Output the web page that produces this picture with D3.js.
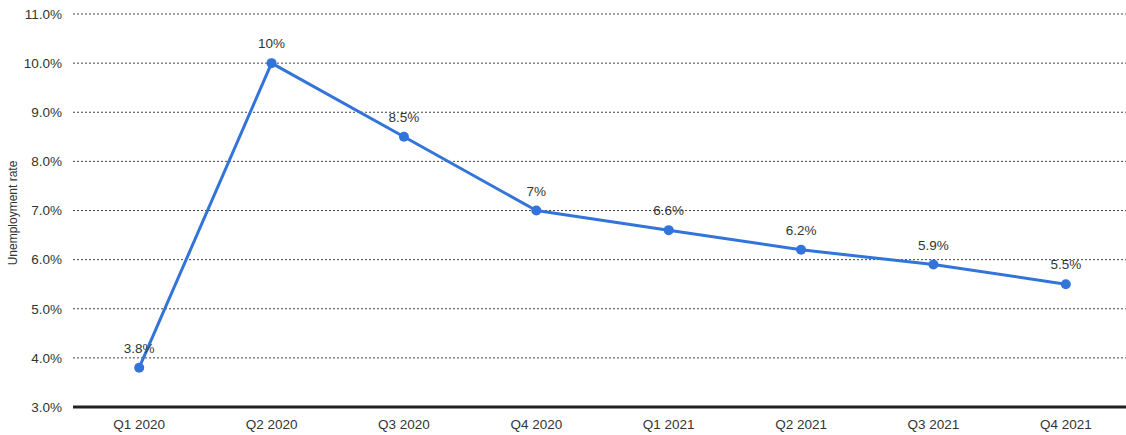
<!DOCTYPE html>
<html><head><meta charset="utf-8">
<script src="https://cdn.jsdelivr.net/npm/d3@7"></script>
<style>body{margin:0;background:#fff;} svg{display:block;font-family:"Liberation Sans",Arial,sans-serif;}</style>
</head><body>
<svg id="c" width="1126" height="435"></svg>
<script>
const categories = ["Q1 2020","Q2 2020","Q3 2020","Q4 2020","Q1 2021","Q2 2021","Q3 2021","Q4 2021"];
const values = [3.8,10,8.5,7,6.6,6.2,5.9,5.5];
const valueLabels = ["3.8%","10%","8.5%","7%","6.6%","6.2%","5.9%","5.5%"];
const yTicks = [3,4,5,6,7,8,9,10,11];

const svg = d3.select("#c");
const x = d3.scaleBand().domain(categories).range([73,1132]);
const y = d3.scaleLinear().domain([3,11]).range([407,14]);

// gridlines
svg.append("g").selectAll("line").data(yTicks.filter(d=>d>3)).join("line")
  .attr("x1",73).attr("x2",1126).attr("y1",d=>y(d)).attr("y2",d=>y(d))
  .attr("stroke","#444").attr("stroke-width",1).attr("stroke-dasharray","2,2");

// y axis labels
const yAxis = d3.axisLeft(y).tickValues(yTicks).tickFormat(d=>d.toFixed(1)+"%").tickSize(0).tickPadding(10);
const gy = svg.append("g").attr("transform","translate(72,0)").call(yAxis);
gy.select(".domain").remove();
gy.selectAll("text").attr("font-size",13.5).attr("fill","#333").attr("font-family","Liberation Sans, Arial, sans-serif");

// x axis
const xAxis = d3.axisBottom(x).tickSize(0).tickPadding(12);
const gx = svg.append("g").attr("transform","translate(0,407)").call(xAxis);
gx.select(".domain").remove();
gx.selectAll("text").attr("font-size",13.5).attr("fill","#333").attr("font-family","Liberation Sans, Arial, sans-serif");
svg.append("line").attr("x1",73).attr("x2",1126).attr("y1",y(3)).attr("y2",y(3))
  .attr("stroke","#222").attr("stroke-width",3);

// y title
svg.append("text").attr("transform","translate(17,213) rotate(-90)").attr("text-anchor","middle")
  .attr("font-size",12).attr("fill","#333").text("Unemployment rate");

const cx = d => x(d)+x.bandwidth()/2;
const data = categories.map((c,i)=>({c,v:values[i],l:valueLabels[i]}));
svg.append("path").datum(data)
  .attr("d",d3.line().x(d=>cx(d.c)).y(d=>y(d.v)))
  .attr("fill","none").attr("stroke","#3274d9").attr("stroke-width",3).attr("stroke-linejoin","round");
svg.append("g").selectAll("circle").data(data).join("circle")
  .attr("cx",d=>cx(d.c)).attr("cy",d=>y(d.v)).attr("r",5).attr("fill","#3274d9");
svg.append("g").selectAll("text").data(data).join("text")
  .attr("x",d=>cx(d.c)).attr("y",d=>y(d.v)-15).attr("text-anchor","middle")
  .attr("font-size",13.5).attr("fill","#333").text(d=>d.l);
</script>
</body></html>
